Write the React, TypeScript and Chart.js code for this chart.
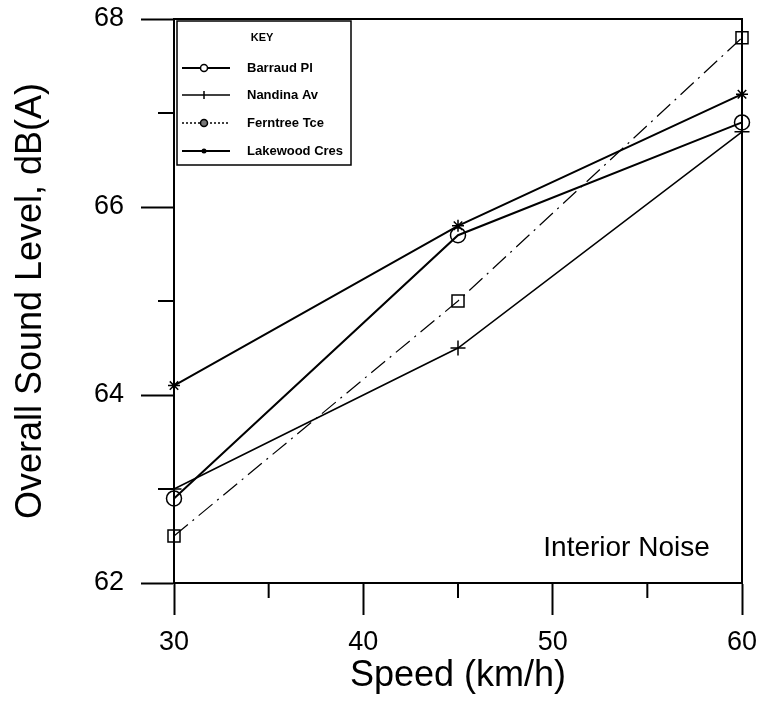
import React, { useEffect, useRef } from "react";
import { Chart, registerables } from "chart.js";

Chart.register(...registerables);

// ---- data ----
const speeds = [30, 45, 60];
const seriesNames = ["Barraud Pl", "Nandina Av", "Ferntree Tce", "Lakewood Cres"];
const barraudPl = [62.9, 65.7, 66.9];
const nandinaAv = [63.0, 64.5, 66.8];
const ferntreeTce = [62.5, 65.0, 67.8];
const lakewoodCres = [64.1, 65.8, 67.2];
const xTicks = [30, 40, 50, 60];
const xMinorTicks = [35, 45, 55];
const yTicks = [62, 64, 66, 68];
const yMinorTicks = [63, 65, 67];
const xTitle = "Speed (km/h)";
const yTitle = "Overall Sound Level, dB(A)";
const annotationText = "Interior Noise";
const legendTitle = "KEY";

const FONT = '"Liberation Sans", Arial, Helvetica, sans-serif';

const seriesValues = [barraudPl, nandinaAv, ferntreeTce, lakewoodCres];

const seriesStyles = [
  { pointStyle: "circle", radius: 7.5, width: 2, dash: [] as number[], legendMarker: "circle", legendDash: [] as number[], legendWidth: 2 },
  { pointStyle: "cross", radius: 7.5, width: 1.5, dash: [] as number[], legendMarker: "vtick", legendDash: [] as number[], legendWidth: 1.3 },
  { pointStyle: "rect", radius: 8.5, width: 1.2, dash: [18, 6, 2, 6], legendMarker: "circleFilledGrey", legendDash: [2, 2], legendWidth: 1.3 },
  { pointStyle: "star", radius: 6, width: 2, dash: [] as number[], legendMarker: "dot", legendDash: [] as number[], legendWidth: 2 },
];

const framePlugin = {
  id: "frameAndKey",
  afterDraw(chart: any) {
    const { ctx, chartArea: a, scales } = chart;
    const xs = scales.x;
    const ys = scales.y;
    ctx.save();
    ctx.strokeStyle = "#000";
    ctx.lineWidth = 2;
    ctx.strokeRect(a.left, a.top, a.right - a.left, a.bottom - a.top);

    // minor ticks
    ctx.beginPath();
    xMinorTicks.forEach((v) => {
      const px = xs.getPixelForValue(v);
      ctx.moveTo(px, a.bottom);
      ctx.lineTo(px, a.bottom + 15);
    });
    yMinorTicks.forEach((v) => {
      const py = ys.getPixelForValue(v);
      ctx.moveTo(a.left, py);
      ctx.lineTo(a.left - 16, py);
    });
    ctx.stroke();

    // annotation
    ctx.fillStyle = "#000";
    ctx.font = `28px ${FONT}`;
    ctx.textAlign = "right";
    ctx.textBaseline = "middle";
    ctx.fillText(annotationText, xs.getPixelForValue(58.3), ys.getPixelForValue(62.37));

    // legend box
    const lx = a.left + 3;
    const ly = a.top + 2;
    const lw = 174;
    const lh = 144;
    ctx.fillStyle = "#fff";
    ctx.fillRect(lx, ly, lw, lh);
    ctx.lineWidth = 1.5;
    ctx.strokeStyle = "#000";
    ctx.strokeRect(lx, ly, lw, lh);

    ctx.fillStyle = "#000";
    ctx.font = `bold 11px ${FONT}`;
    ctx.textAlign = "center";
    ctx.fillText(legendTitle, lx + 85, ly + 17);

    const rowY = [47, 74, 102, 130];
    seriesNames.forEach((name, i) => {
      const st = seriesStyles[i];
      const y = ly + rowY[i];
      ctx.beginPath();
      ctx.setLineDash(st.legendDash);
      ctx.lineWidth = st.legendWidth;
      ctx.moveTo(lx + 5, y);
      ctx.lineTo(lx + 53, y);
      ctx.stroke();
      ctx.setLineDash([]);
      const mx = lx + 27;
      ctx.lineWidth = 1.5;
      if (st.legendMarker === "circle") {
        ctx.beginPath();
        ctx.arc(mx, y, 3.5, 0, Math.PI * 2);
        ctx.fillStyle = "#fff";
        ctx.fill();
        ctx.stroke();
      } else if (st.legendMarker === "vtick") {
        ctx.beginPath();
        ctx.moveTo(mx, y - 4);
        ctx.lineTo(mx, y + 4);
        ctx.stroke();
      } else if (st.legendMarker === "circleFilledGrey") {
        ctx.beginPath();
        ctx.arc(mx, y, 3.5, 0, Math.PI * 2);
        ctx.fillStyle = "#777";
        ctx.fill();
        ctx.stroke();
      } else {
        ctx.beginPath();
        ctx.arc(mx, y, 2.5, 0, Math.PI * 2);
        ctx.fillStyle = "#000";
        ctx.fill();
      }
      ctx.fillStyle = "#000";
      ctx.font = `bold 13px ${FONT}`;
      ctx.textAlign = "left";
      ctx.textBaseline = "middle";
      ctx.fillText(name, lx + 70, y);
    });
    ctx.restore();
  },
};

export default function App() {
  const canvasRef = useRef<HTMLCanvasElement | null>(null);

  useEffect(() => {
    if (!canvasRef.current) return;
    const datasets = seriesNames.map((name, i) => {
      const st = seriesStyles[i];
      return {
        label: name,
        data: speeds.map((s, j) => ({ x: s, y: seriesValues[i][j] })),
        borderColor: "#000",
        borderWidth: st.width,
        borderDash: st.dash,
        pointStyle: st.pointStyle,
        pointRadius: st.radius,
        pointBorderColor: "#000",
        pointBackgroundColor: "rgba(0,0,0,0)",
        pointBorderWidth: 1.5,
        fill: false,
        tension: 0,
        clip: false,
      };
    });

    const chart = new Chart(canvasRef.current, {
      type: "line",
      data: { datasets },
      plugins: [framePlugin],
      options: {
        animation: false,
        responsive: true,
        maintainAspectRatio: false,
        layout: { padding: { top: 19, right: 19, left: 0, bottom: 0 } },
        plugins: {
          legend: { display: false },
          tooltip: { enabled: false },
        },
        scales: {
          x: {
            type: "linear",
            min: 30,
            max: 60,
            afterBuildTicks: (s: any) => {
              s.ticks = xTicks.map((v) => ({ value: v }));
            },
            afterFit: (s: any) => {
              s.height = 126;
              s.paddingLeft = 0;
              s.paddingRight = 0;
            },
            grid: {
              drawOnChartArea: false,
              drawTicks: true,
              tickLength: 32,
              tickWidth: 2,
              tickColor: "#000",
            },
            border: { display: true, color: "#000", width: 2 },
            ticks: {
              color: "#000",
              padding: 11,
              maxRotation: 0,
              font: { family: FONT, size: 27 },
            },
            title: {
              display: true,
              text: xTitle,
              color: "#000",
              padding: { top: 0, bottom: 11 },
              font: { family: FONT, size: 36 },
            },
          },
          y: {
            type: "linear",
            min: 62,
            max: 68,
            afterBuildTicks: (s: any) => {
              s.ticks = yTicks.map((v) => ({ value: v }));
            },
            afterFit: (s: any) => {
              s.width = 174;
              s.paddingTop = 0;
              s.paddingBottom = 0;
            },
            grid: {
              drawOnChartArea: false,
              drawTicks: true,
              tickLength: 33,
              tickWidth: 2,
              tickColor: "#000",
            },
            border: { display: true, color: "#000", width: 2 },
            ticks: {
              color: "#000",
              padding: 17,
              font: { family: FONT, size: 27 },
            },
            title: {
              display: true,
              text: yTitle,
              color: "#000",
              padding: { top: 9, bottom: 0 },
              font: { family: FONT, size: 36 },
            },
          },
        },
      } as any,
    });
    return () => chart.destroy();
  }, []);

  return (
    <div style={{ position: "fixed", left: 0, top: 0, width: 761, height: 709, background: "#fff" }}>
      <canvas ref={canvasRef} />
    </div>
  );
}
